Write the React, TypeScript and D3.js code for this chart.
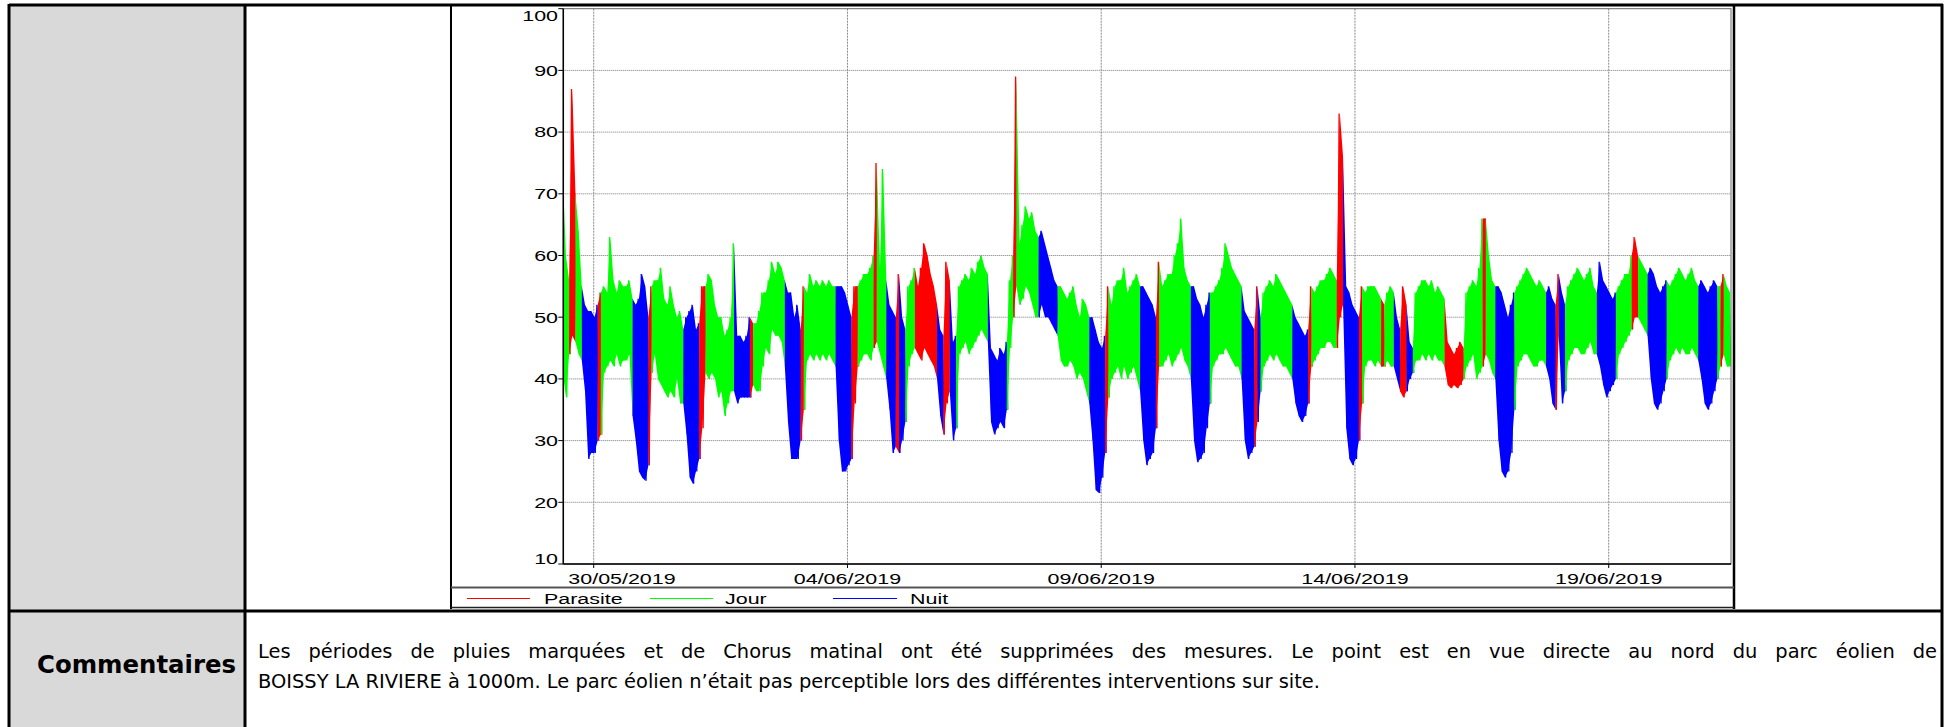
import React, { useMemo } from 'react';
import * as d3 from 'd3';

// ---------------- DATA ----------------
const categories = ['Parasite', 'Jour', 'Nuit'];
const categoryCodes = ['P', 'J', 'N'];
const categoryColors = ['#ff0000', '#00ff00', '#0000ff'];

const yTicks = [10, 20, 30, 40, 50, 60, 70, 80, 90, 100];
const xTickDates = ['2019-05-30', '2019-06-04', '2019-06-09', '2019-06-14', '2019-06-19'];
const xTickLabels = ['30/05/2019', '04/06/2019', '09/06/2019', '14/06/2019', '19/06/2019'];
const xDomain = ['2019-05-29T09:37:00Z', '2019-06-21T09:50:00Z'];

// sampled envelope: each row = 16 bins of 1.5 h starting at 09:00 of the given day
const seriesStart = '2019-05-29T09:00:00Z';
const binHours = 1.5;
const classRows = [
  'PJJPPJJNNNNNPJJJ', // 29/05
  'JJJJJJJNNNNNPJJJ', // 30/05
  'JJJJJJJNNNNNPPJJ', // 31/05
  'JJJJJJJNNNNNPJJJ', // 01/06
  'JJJJJJJNNNNNPJJJ', // 02/06
  'JJJJJJJNNNNNPPJJ', // 03/06
  'JJJPJJJNNNPNNJJJ', // 04/06
  'PPPPPPPNNPPNNJJJ', // 05/06
  'JJJJJJJNNNNNNJJP', // 06/06
  'JJJJJJJNNNNNNJJJ', // 07/06
  'JJJJJJJNNNNNPJJJ', // 08/06
  'JJJJJJJNNNNNPJJJ', // 09/06
  'JJJJJJJNNNNNNJJJ', // 10/06
  'JJJJJJJNNNNPNJJJ', // 11/06
  'JJJJJJJNNNNNPJJJ', // 12/06
  'JJJJJPPNNNNNPJJJ', // 13/06
  'JJJPJJJNNPPNNJJJ', // 14/06
  'JJJJJJJPPPPPPJJJ', // 15/06
  'JJJPJJJNNNNNNJJJ', // 16/06
  'JJJJJJJNNNPNNJJJ', // 17/06
  'JJJJJJJNNNNNNJJJ', // 18/06
  'JJPPJJJNNNNNNJJJ', // 19/06
  'JJJJJJJNNNNNNJPJJ', // 20/06
];
const hiRows = [
  [73, 60, 56, 87, 70, 64, 55, 52, 51, 51, 50, 52, 54, 55, 54, 63],
  [56, 54, 56, 55, 55, 56, 53, 52, 53, 57, 55, 50, 55, 56, 56, 58],
  [53, 52, 55, 52, 50, 51, 48, 50, 51, 52, 48, 49, 55, 55, 57, 56],
  [52, 50, 50, 47, 48, 50, 62, 47, 47, 46, 47, 50, 49, 49, 51, 54],
  [54, 56, 59, 57, 59, 58, 56, 54, 54, 50, 52, 48, 55, 54, 57, 55],
  [56, 55, 56, 55, 56, 55, 55, 55, 55, 54, 52, 50, 55, 55, 56, 57],
  [57, 58, 60, 75, 58, 74, 56, 52, 51, 50, 57, 50, 48, 55, 56, 58],
  [55, 58, 62, 60, 57, 55, 52, 48, 47, 59, 56, 46, 47, 55, 56, 57],
  [56, 58, 57, 59, 60, 58, 57, 45, 44, 43, 45, 44, 46, 56, 60, 89],
  [62, 65, 68, 66, 67, 64, 63, 64, 62, 60, 58, 56, 55, 55, 54, 53],
  [54, 55, 52, 50, 53, 52, 50, 50, 48, 46, 45, 47, 55, 52, 55, 56],
  [56, 58, 54, 55, 56, 57, 55, 55, 54, 53, 52, 50, 59, 55, 56, 57],
  [57, 60, 62, 66, 58, 56, 55, 55, 53, 52, 50, 52, 54, 54, 55, 56],
  [58, 62, 60, 58, 57, 56, 55, 51, 50, 49, 48, 55, 50, 54, 55, 56],
  [55, 57, 56, 55, 54, 53, 52, 50, 49, 48, 47, 48, 55, 54, 55, 56],
  [56, 57, 58, 57, 56, 83, 76, 55, 54, 52, 51, 50, 55, 54, 55, 55],
  [55, 54, 53, 52, 54, 55, 54, 50, 48, 55, 52, 46, 45, 54, 55, 56],
  [56, 55, 56, 54, 55, 54, 53, 46, 45, 44, 45, 46, 45, 54, 55, 56],
  [55, 58, 66, 66, 60, 56, 55, 55, 54, 52, 50, 52, 54, 55, 56, 57],
  [58, 57, 56, 55, 56, 55, 54, 55, 53, 52, 57, 54, 52, 55, 56, 57],
  [58, 57, 56, 57, 58, 55, 54, 59, 56, 55, 54, 53, 54, 55, 56, 57],
  [57, 60, 63, 60, 59, 58, 57, 58, 57, 55, 54, 55, 56, 55, 56, 57],
  [58, 57, 56, 57, 58, 56, 55, 56, 55, 54, 55, 56, 55, 55, 57, 55, 54],
];
const loRows = [
  [41, 37, 44, 47, 46, 44, 43, 38, 27, 28, 28, 30, 31, 41, 42, 43],
  [42, 44, 42, 43, 43, 44, 34, 30, 25, 24, 23.5, 26, 41, 44, 40, 39],
  [38, 37, 38, 37, 40, 36, 36, 31, 24, 23, 25, 27, 32, 41, 40, 41],
  [40, 37, 38, 34, 36, 38, 38, 36, 37, 37, 37, 37, 39, 38, 38, 42],
  [45, 44, 48, 47, 47, 46, 42, 33, 27, 27, 27, 30, 35, 43, 44, 43],
  [44, 43, 44, 43, 44, 43, 42, 30, 25, 25, 26, 27, 36, 42, 43, 44],
  [44, 43, 45, 46, 44, 42, 40, 35, 28, 29, 28, 30, 33, 42, 44, 45],
  [44, 43, 45, 44, 43, 42, 40, 34, 31, 36, 38, 30, 32, 44, 45, 46],
  [44, 45, 46, 47, 48, 47, 46, 33, 31, 32, 33, 32, 35, 45, 50, 55],
  [52, 53, 55, 54, 52, 50, 50, 52, 50, 50, 49, 48, 47, 43, 42, 42],
  [43, 42, 40, 41, 40, 38, 36, 30, 22, 21.5, 24, 28, 37, 40, 41, 42],
  [40, 42, 40, 41, 42, 40, 38, 30, 26, 27, 28, 32, 42, 42, 43, 44],
  [42, 43, 44, 45, 43, 42, 40, 30, 26.5, 27, 28, 32, 36, 42, 43, 44],
  [44, 45, 44, 43, 42, 42, 40, 30, 27, 28, 29, 33, 38, 42, 43, 44],
  [43, 44, 43, 42, 42, 41, 40, 36, 34, 33, 34, 36, 42, 43, 44, 45],
  [45, 46, 46, 45, 45, 50, 52, 32, 27, 26, 27, 30, 36, 42, 43, 43],
  [42, 43, 42, 42, 43, 42, 42, 40, 38, 37, 38, 40, 41, 43, 43, 44],
  [43, 44, 43, 44, 43, 43, 42, 39, 38.5, 39, 38.5, 39, 40, 42, 43, 44],
  [40, 41, 42, 44, 43, 41, 40, 30, 25, 24, 25, 28, 35, 42, 43, 44],
  [44, 43, 42, 42, 43, 43, 42, 40, 36, 35, 47, 36, 38, 43, 44, 45],
  [45, 44, 44, 45, 46, 44, 44, 42, 39, 37, 38, 39, 40, 44, 45, 46],
  [47, 48, 50, 50, 49, 48, 47, 40, 36, 35, 36, 38, 40, 43, 44, 45],
  [44, 45, 44, 44, 45, 44, 43, 40, 36, 35, 36, 38, 40, 42, 44, 42, 42],
];

const rowHeader = 'Commentaires';
const commentLine1 =
  'Les périodes de pluies marquées et de Chorus matinal ont été supprimées des mesures. Le point est en vue directe au nord du parc éolien de';
const commentLine2 =
  'BOISSY LA RIVIERE à 1000m. Le parc éolien n’était pas perceptible lors des différentes interventions sur site.';

// ---------------- LAYOUT ----------------
const W = 1948;
const H = 727;
const plot = { left: 563.3, right: 1731, top: 8.7, bottom: 564 };
const chartFont = '"Liberation Sans", Arial, sans-serif';
const stretch = 1.43;
const docFont = '"DejaVu Sans", Verdana, sans-serif';

function measure(text: string, font: string): number {
  if (typeof document === 'undefined') return text.length * 10;
  const c = document.createElement('canvas').getContext('2d');
  if (!c) return text.length * 10;
  c.font = font;
  return c.measureText(text).width;
}

function SText(props: { x: number; y: number; anchor?: string; children: any }) {
  return (
    <text
      transform={`translate(${props.x},${props.y}) scale(${stretch},1)`}
      textAnchor={props.anchor || 'start'}
      fontFamily={chartFont}
      fontSize={15}
      fill="#000"
    >
      {props.children}
    </text>
  );
}

type Bin = { t: number; hi: number; lo: number; c: string };

export default function App() {
  const x = d3.scaleUtc().domain(xDomain.map((d) => new Date(d))).range([plot.left, plot.right]);
  const y = d3.scaleLinear().domain([10, 100]).range([plot.bottom, plot.top]);

  const segments = useMemo(() => {
    const t0 = new Date(seriesStart).getTime();
    const stepMs = binHours * 3600 * 1000;
    const bins: Bin[] = [];
    classRows.forEach((row, r) => {
      for (let k = 0; k < row.length; k++) {
        bins.push({ t: t0 + bins.length * stepMs, hi: hiRows[r][k], lo: loRows[r][k], c: row[k] });
      }
    });
    const segs: { c: string; bins: Bin[]; prev: Bin | null }[] = [];
    bins.forEach((b, j) => {
      const last = segs[segs.length - 1];
      if (!last || last.c !== b.c) segs.push({ c: b.c, bins: [b], prev: j > 0 ? bins[j - 1] : null });
      else last.bins.push(b);
    });
    return { segs, step: stepMs };
  }, []);

  const colorOf = (c: string) => categoryColors[categoryCodes.indexOf(c)];

  const area = d3
    .area<Bin>()
    .x((b) => x(new Date(b.t + segments.step / 4)))
    .y0((b) => y(b.lo))
    .y1((b) => y(b.hi));

  const segPaths = segments.segs.map((s) => {
    const step = segments.step;
    const withPrev = s.prev ? [s.prev, ...s.bins] : s.bins;
    const areaD = area(withPrev) || '';
    const zz: [number, number][] = [];
    if (s.prev) zz.push([x(new Date(s.prev.t + step / 2)), y(s.prev.lo)]);
    s.bins.forEach((b) => {
      zz.push([x(new Date(b.t)), y(b.hi)]);
      zz.push([x(new Date(b.t + step / 2)), y(b.lo)]);
    });
    const zig = d3.line()(zz) || '';
    return { c: s.c, area: areaD, zig };
  });

  // comment text layout (justified first line)
  const fs = 20;
  const fontStr = `${fs}px "DejaVu Sans"`;
  const line2Left = 258;
  const line2Width = 1062;
  const nat2 = measure(commentLine2, fontStr);
  const sx = line2Width / nat2;
  const words = commentLine1.split(' ');
  const wordW = words.map((w) => measure(w, fontStr) * sx);
  const line1Width = 1937 - 258;
  const gap = (line1Width - d3.sum(wordW)) / (words.length - 1);
  const wordX: number[] = [];
  let cx = 258;
  wordW.forEach((w) => {
    wordX.push(cx);
    cx += w + gap;
  });

  const legendItems = categories.map((name, i) => ({
    name,
    color: categoryColors[i],
    x1: [467, 650, 833][i],
    x2: [530, 713, 897][i],
    tx: [544, 725, 910][i],
  }));

  const xTicks = xTickDates.map((d, i) => {
    const px = x(new Date(d + 'T00:00:00Z'));
    const half = (measure(xTickLabels[i], `15px "Liberation Sans"`) * stretch) / 2;
    const cxl = Math.max(px, plot.left + 5 + half);
    return { px, label: xTickLabels[i], cx: cxl };
  });

  return (
    <svg
      width={W}
      height={H}
      style={{ position: 'absolute', left: 0, top: 0, display: 'block', background: '#fff' }}
    >
      {/* table */}
      <rect x={9} y={5} width={236} height={H - 5} fill="#d9d9d9" />
      <line x1={9} x2={1943} y1={5} y2={5} stroke="#000" strokeWidth={3} />
      <line x1={9} x2={9} y1={4} y2={H} stroke="#000" strokeWidth={3} />
      <line x1={245} x2={245} y1={4} y2={H} stroke="#000" strokeWidth={3} />
      <line x1={1942} x2={1942} y1={4} y2={H} stroke="#000" strokeWidth={3} />
      <line x1={9} x2={1943} y1={611} y2={611} stroke="#000" strokeWidth={3} />

      {/* chart frame */}
      <line x1={451} x2={451} y1={5} y2={609} stroke="#000" strokeWidth={2} />
      <line x1={1734} x2={1734} y1={5} y2={609} stroke="#000" strokeWidth={2.5} />
      <line x1={451} x2={1734} y1={587.5} y2={587.5} stroke="#555" strokeWidth={2} />
      <line x1={451} x2={1734} y1={607.5} y2={607.5} stroke="#222" strokeWidth={1.5} />

      {/* grid */}
      <g>
        {yTicks.filter((v) => v > 10 && v < 100).map((v) => (
          <line key={v} x1={plot.left} x2={plot.right} y1={y(v)} y2={y(v)} stroke="#777" strokeWidth={1} strokeDasharray="1,1" />
        ))}
        {xTicks.map((t) => (
          <line key={t.label} x1={t.px} x2={t.px} y1={plot.top} y2={plot.bottom} stroke="#888" strokeWidth={1} strokeDasharray="2,1" />
        ))}
      </g>

      {/* series */}
      <defs>
        <clipPath id="plotclip">
          <rect x={plot.left} y={plot.top} width={plot.right - plot.left} height={plot.bottom - plot.top} />
        </clipPath>
      </defs>
      <g clipPath="url(#plotclip)">
        {segPaths.map((s, i) => (
          <g key={i}>
            <path d={s.area} fill={colorOf(s.c)} stroke="none" />
            <path d={s.zig} fill="none" stroke={colorOf(s.c)} strokeWidth={1.3} strokeMiterlimit={2} />
          </g>
        ))}
      </g>

      {/* plot border */}
      <rect x={plot.left} y={plot.top} width={plot.right - plot.left} height={plot.bottom - plot.top} fill="none" stroke="#666" strokeWidth={1} />
      <line x1={plot.left} x2={plot.left} y1={plot.top} y2={plot.bottom} stroke="#000" strokeWidth={1.5} />
      <line x1={plot.left} x2={plot.right} y1={plot.bottom} y2={plot.bottom} stroke="#000" strokeWidth={1.5} />

      {/* y axis */}
      {yTicks.map((v) => {
        const py = y(v);
        const base = Math.min(Math.max(py + 5.3, 20.5), 563.5);
        return (
          <g key={v}>
            <line x1={plot.left - 5} x2={plot.left} y1={py} y2={py} stroke="#000" strokeWidth={1} />
            <SText x={558} y={base} anchor="end">{String(v)}</SText>
          </g>
        );
      })}

      {/* x axis */}
      {xTicks.map((t) => (
        <g key={t.label}>
          <line x1={t.px} x2={t.px} y1={plot.bottom} y2={plot.bottom + 4} stroke="#000" strokeWidth={1} />
          <SText x={t.cx} y={584} anchor="middle">{t.label}</SText>
        </g>
      ))}

      {/* legend */}
      {legendItems.map((it) => (
        <g key={it.name}>
          <line x1={it.x1} x2={it.x2} y1={598.5} y2={598.5} stroke={it.color} strokeWidth={1} />
          <SText x={it.tx} y={604}>{it.name}</SText>
        </g>
      ))}

      {/* comments row */}
      <text x={37} y={673} fontFamily={docFont} fontWeight="bold" fontSize={25} textLength={199} lengthAdjust="spacingAndGlyphs">
        {rowHeader}
      </text>
      {words.map((w, i) => (
        <text key={i} transform={`translate(${wordX[i]},658) scale(${sx},1)`} fontFamily={docFont} fontSize={fs}>
          {w}
        </text>
      ))}
      <text x={line2Left} y={688} fontFamily={docFont} fontSize={fs} textLength={line2Width} lengthAdjust="spacingAndGlyphs">
        {commentLine2}
      </text>
    </svg>
  );
}
